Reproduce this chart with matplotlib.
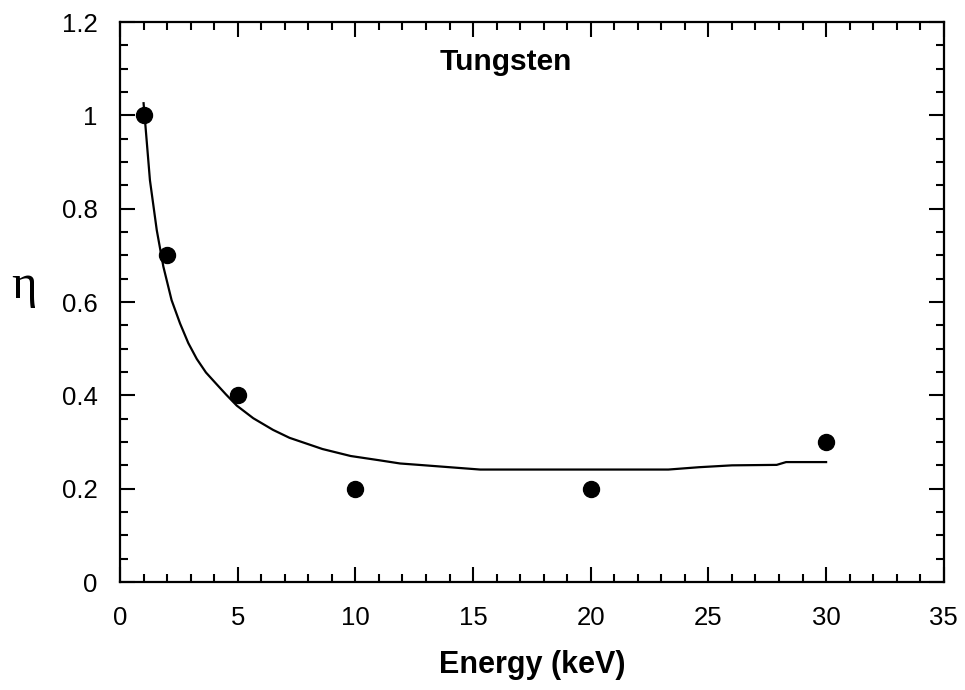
import matplotlib
matplotlib.use("Agg")
import matplotlib.pyplot as plt
from matplotlib.ticker import MultipleLocator

# Measured data points
energy_pts = [1, 2, 5, 10, 20, 30]
eta_pts = [1.0, 0.7, 0.4, 0.2, 0.2, 0.3]

# Fitted curve
curve_x = [1.0, 1.27, 1.56, 1.84, 2.19, 2.55, 2.9, 3.26, 3.65, 4.1, 4.5, 4.96,
           5.66, 6.5, 7.2, 8.6, 9.8, 11.0, 11.9, 12.7, 14.0, 15.3, 20.0, 23.3,
           24.6, 26.0, 27.9, 28.3, 30.0]
curve_y = [1.026, 0.861, 0.754, 0.676, 0.604, 0.554, 0.512, 0.478, 0.449, 0.424,
           0.402, 0.378, 0.351, 0.326, 0.309, 0.285, 0.27, 0.261, 0.254, 0.251,
           0.246, 0.241, 0.241, 0.241, 0.246, 0.25, 0.251, 0.257, 0.257]

x_ticks = [0, 5, 10, 15, 20, 25, 30, 35]
y_ticks = [0, 0.2, 0.4, 0.6, 0.8, 1.0, 1.2]
y_tick_labels = ["0", "0.2", "0.4", "0.6", "0.8", "1", "1.2"]

plt.rcParams['font.family'] = ['Liberation Sans', 'DejaVu Sans']

fig = plt.figure(figsize=(9.65, 6.9), dpi=100)
ax = fig.add_axes([0.1244, 0.1565, 0.8536, 0.8116])

ax.plot(curve_x, curve_y, color='black', lw=1.6, zorder=2)
ax.plot(energy_pts, eta_pts, 'o', color='black', markersize=11.5, zorder=3)

ax.set_xlim(0, 35)
ax.set_ylim(0, 1.2)
ax.set_xticks(x_ticks)
ax.set_xticklabels([str(v) for v in x_ticks])
ax.set_yticks(y_ticks)
ax.set_yticklabels(y_tick_labels)
ax.xaxis.set_minor_locator(MultipleLocator(1))
ax.yaxis.set_minor_locator(MultipleLocator(0.05))

ax.tick_params(which='both', direction='in', top=True, right=True, width=1.5,
               labelsize=18.5)
ax.tick_params(axis='x', which='both', pad=17)
ax.tick_params(axis='y', which='both', pad=16)
ax.tick_params(which='major', length=11)
ax.tick_params(which='minor', length=5.5)
for s in ax.spines.values():
    s.set_linewidth(1.6)

ax.set_xlabel("Energy (keV)", fontsize=22, fontweight='bold', labelpad=15)

fig.text(24 / 965, 1 - 298 / 690, "η", fontsize=35,
         family=['Liberation Serif', 'DejaVu Serif'],
         ha='center', va='baseline')

ax.text(16.4, 1.114, "Tungsten", fontsize=21.5, fontweight='bold',
        ha='center', va='center')

fig.savefig("out.png", dpi=100)
